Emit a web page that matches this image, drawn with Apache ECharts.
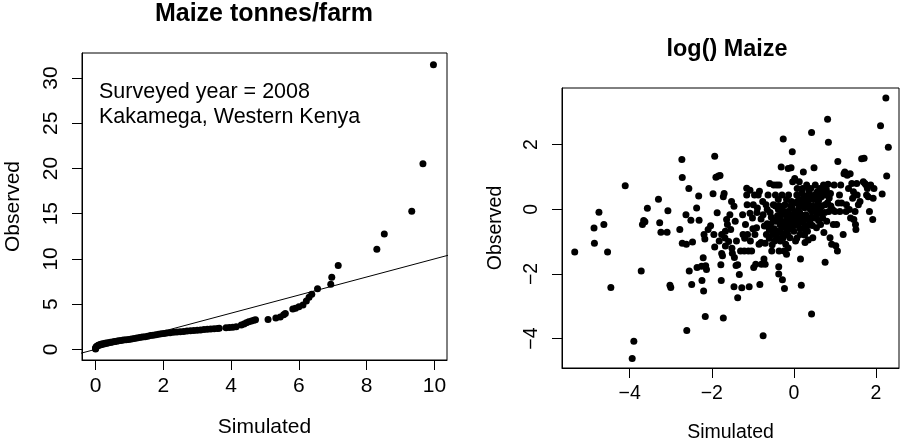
<!DOCTYPE html>
<html><head><meta charset="utf-8">
<script src="https://cdn.jsdelivr.net/npm/echarts@6/dist/echarts.min.js"></script>
<style>html,body{margin:0;padding:0;background:#fff}#c{width:902px;height:448px}</style>
</head><body><div id="c"></div>
<script>
// ---------- Left panel: Q-Q of maize tonnes/farm ----------
const qqSim = [0.00,0.00,0.01,0.02,0.04,0.07,0.10,0.14,0.18,0.23,
  0.28,0.33,0.38,0.44,0.50,0.56,0.62,0.68,0.75,0.82,
  0.90,0.98,1.06,1.14,1.22,1.30,1.38,1.46,1.54,1.62,
  1.70,1.78,1.86,1.94,2.02,2.10,2.20,2.30,2.40,2.50,
  2.60,2.70,2.80,2.90,3.00,3.10,3.20,3.30,3.40,3.50,
  3.60,3.65,3.85,3.95,4.05,4.15,4.30,4.38,4.45,4.52,
  4.60,4.67,4.72,5.09,5.32,5.45,5.55,5.60,5.82,5.90,
  6.00,6.12,6.22,6.30,6.38,6.55,6.94,6.97,7.16,8.30,
  8.52,9.33,9.66,9.97];
const qqObs = [0.05,0.12,0.20,0.28,0.35,0.42,0.48,0.53,0.58,0.62,
  0.66,0.70,0.74,0.78,0.82,0.86,0.90,0.94,0.98,1.02,
  1.06,1.10,1.15,1.20,1.25,1.30,1.35,1.40,1.46,1.52,
  1.57,1.62,1.67,1.72,1.76,1.80,1.84,1.88,1.92,1.95,
  1.98,2.02,2.05,2.08,2.12,2.15,2.18,2.21,2.24,2.27,
  2.30,2.32,2.38,2.41,2.45,2.50,2.70,2.80,2.95,3.05,
  3.12,3.22,3.26,3.30,3.47,3.57,3.83,3.95,4.45,4.55,
  4.70,4.90,5.35,5.76,6.10,6.71,7.19,7.97,9.26,11.07,
  12.76,15.28,20.51,31.47];
const refLine = [[-1, -1], [11, 11]]; // y = x reference
const leftXTicks = [0, 2, 4, 6, 8, 10];
const leftYTicks = [0, 5, 10, 15, 20, 25, 30];

// ---------- Right panel: log() Maize ----------
const logSim = [-5.34,-4.87,-4.86,-4.75,-4.63,-4.54,-4.46,-4.11,-3.90,-3.94,
  -3.72,-3.69,-3.66,-3.63,-3.57,-3.30,-3.27,-3.24,-3.09,-3.07,
  -3.02,-3.00,-2.78,-2.73,-2.72,-2.72,-2.63,-2.62,-2.61,-2.56,
  -2.55,-2.51,-2.49,-2.47,-2.37,-2.36,-2.32,-2.31,-2.25,-2.24,
  -2.21,-2.20,-2.19,-2.17,-2.16,-2.15,-2.13,-2.09,-2.03,-1.97,
  -1.95,-1.93,-1.93,-1.90,-1.87,-1.84,-1.80,-1.82,-1.78,-1.77,
  -1.76,-1.76,-1.74,-1.72,-1.72,-1.70,-1.68,-1.67,-1.67,-1.64,
  -1.62,-1.59,-1.56,-1.54,-1.52,-1.51,-1.50,-1.46,-1.46,-1.45,
  -1.43,-1.41,-1.40,-1.37,-1.37,-1.33,-1.30,-1.27,-1.25,-1.24,
  -1.21,-1.18,-1.15,-1.15,-1.14,-1.13,-1.11,-1.09,-1.07,-1.07,
  -1.06,-1.03,-1.01,-0.99,-0.98,-0.96,-0.95,-0.93,-0.91,-0.89,
  -0.87,-0.85,-0.84,-0.83,-0.80,-0.79,-0.76,-0.75,-0.75,-0.73,
  -0.72,-0.70,-0.68,-0.67,-0.65,-0.63,-0.60,-0.59,-0.57,-0.54,
  -0.52,-0.50,-0.49,-0.47,-0.46,-0.45,-0.42,-0.41,-0.38,-0.37,
  -0.37,-0.36,-0.36,-0.34,-0.33,-0.31,-0.30,-0.29,-0.28,-0.26,
  -0.26,-0.24,-0.23,-0.22,-0.21,-0.20,-0.18,-0.16,-0.15,-0.14,
  -0.13,-0.11,-0.10,-0.08,-0.07,-0.06,-0.04,-0.03,-0.02,0.00,
  0.02,0.02,0.04,0.07,0.08,0.11,0.13,0.15,0.16,0.18,
  0.19,0.21,0.23,0.23,0.24,0.27,0.29,0.31,0.33,0.35,
  0.37,0.39,0.41,0.43,0.43,0.44,0.46,0.47,0.49,0.50,
  0.52,0.54,0.55,0.57,0.59,0.62,0.63,0.65,0.67,0.70,
  0.72,0.73,0.76,0.76,0.78,0.80,0.82,0.83,0.84,0.85,
  0.88,0.89,0.92,0.94,0.96,0.98,1.00,1.02,1.04,1.06,
  1.07,1.08,1.11,1.12,1.14,1.16,1.20,1.22,1.24,1.27,
  1.28,1.30,1.33,1.35,1.37,1.38,1.41,1.43,1.45,1.46,
  1.49,1.50,1.51,1.53,1.54,1.57,1.61,1.65,1.69,1.71,
  1.73,1.76,1.77,1.79,1.81,1.84,1.87,1.92,1.93,1.95,
  2.11,2.15,2.24,2.26,2.30,
  -0.55,-0.48,-0.40,-0.35,-0.30,-0.27,-0.20,-0.18,-0.12,-0.10,
  -0.05,-0.02,0.03,0.05,0.10,0.12,0.18,0.20,0.25,0.28,
  0.32,0.36,0.40,0.45,0.48,0.52,0.58,0.60,0.68,0.74,
  0.82,0.90,-0.15,-0.25,-0.45,-0.60,-0.80,-0.90,-1.00,-1.20,
  -0.65,-0.58,-0.50,-0.43,-0.38,-0.33,-0.28,-0.22,-0.17,-0.08,
  0.00,0.06,0.09,0.14,0.17,0.22,0.26,0.30,0.34,0.38,
  0.42,0.46,0.51,0.55,0.61,0.64,0.70,0.75,0.79,0.86,
  -0.70,-0.53,-0.32,-0.14,0.07,0.26,-0.42,-0.06,0.15,0.35];
const logObs = [-1.32,-0.58,-1.05,-0.09,-0.47,-1.32,-2.42,0.73,-4.08,-4.62,
  -1.91,-0.47,-0.35,-0.39,0.03,0.31,-0.42,-0.71,-0.71,-0.05,
  -2.35,-2.42,-0.63,1.54,0.98,-1.05,-0.17,-1.08,-3.75,0.64,
  -1.91,-0.34,-2.33,-1.01,0.04,-1.80,0.41,-0.34,-1.76,-2.20,
  -1.50,-2.53,-0.78,-0.92,-3.32,-1.75,-1.86,-0.63,-0.51,0.48,
  -0.78,1.64,-1.17,0.99,-0.11,1.03,1.04,-0.98,-1.72,-2.20,
  -0.78,-1.37,-1.44,0.39,-3.36,0.49,-0.89,-1.14,-0.68,-0.32,
  -0.47,-1.00,-0.17,-0.63,0.24,-1.21,-1.36,0.09,-2.40,-1.49,
  -0.37,-1.74,-0.98,-2.74,-1.72,-2.02,-1.29,-2.43,-0.17,-0.78,
  -1.29,-0.47,0.65,0.44,0.14,-0.78,-1.29,-2.40,-0.12,0.59,
  -0.98,-1.29,-0.27,0.14,-1.80,0.44,-0.78,-1.70,-0.57,0.04,
  0.44,-1.08,0.56,-2.33,-1.03,-1.70,0.24,-0.17,-3.91,-1.54,
  -0.52,-1.70,0.14,-0.78,-0.01,0.44,-0.63,0.80,-0.47,-1.29,
  -0.78,0.14,0.75,-0.98,-0.37,0.44,0.75,-0.68,-0.01,-1.78,
  -2.00,-1.29,0.75,-0.47,-0.98,1.31,-0.17,0.44,-2.18,2.17,
  -0.78,-1.29,-2.45,0.14,-0.37,-1.08,-1.39,-0.68,-0.07,1.26,
  0.44,-0.47,-0.88,-0.17,1.28,0.24,1.78,0.85,-0.37,-0.68,
  -0.07,0.95,-0.98,0.44,0.64,-0.27,0.85,-0.78,-1.54,-2.35,
  0.14,0.64,1.15,-0.42,0.34,-1.03,-0.17,0.75,-0.68,0.14,
  0.49,-0.42,0.64,2.37,-3.24,-0.07,-0.88,0.39,1.28,-0.27,
  0.75,0.04,-0.57,0.54,0.19,-0.11,0.64,-0.47,0.39,-0.27,
  0.75,-0.72,0.14,-1.64,0.44,-0.37,2.78,0.77,2.07,-0.07,
  -0.88,0.49,-1.08,-0.01,-0.47,0.75,-0.07,-1.13,-0.47,-1.29,
  1.48,0.19,0.44,-0.07,0.75,0.19,-0.78,1.10,1.15,-0.07,
  0.14,1.05,0.64,-0.01,1.10,-0.27,0.80,0.34,0.54,-0.32,
  -0.07,-0.47,-0.63,0.80,0.44,0.14,0.24,1.56,0.85,1.58,
  0.80,0.75,0.44,0.64,0.39,-0.07,0.75,-0.32,0.34,0.64,
  2.58,0.47,3.44,1.03,1.92,
  -0.25,-0.60,-0.20,0.10,-0.55,-0.90,-0.15,0.30,-0.30,-0.60,
  0.05,-0.50,-0.20,0.20,-0.50,0.05,-0.35,0.50,-0.60,0.25,
  -0.30,0.60,0.00,-0.50,0.30,-0.05,0.45,-0.35,0.10,0.50,
  0.20,0.10,-0.80,-0.40,0.10,-0.90,-0.30,-0.10,-0.60,-0.90,
  -0.45,-0.10,-0.35,-0.80,0.30,-0.35,0.00,-0.55,-0.25,0.10,
  -0.15,-0.40,0.25,-0.10,0.30,-0.20,0.05,0.40,-0.50,0.30,
  -0.25,0.10,0.45,-0.20,0.30,0.05,0.55,-0.10,0.60,0.35,
  -1.05,-1.10,-0.70,-1.20,-0.90,-0.80,-0.85,-0.45,-0.60,-0.95];
const rightXTicks = [-4, -2, 0, 2];
const rightYTicks = [-4, -2, 0, 2];

const titles = ['Maize tonnes/farm', 'log() Maize'];
const annotation = ['Surveyed year = 2008', 'Kakamega, Western Kenya'];

// ---------- build ----------
const FONT = '"Liberation Sans", Arial, Helvetica, sans-serif';
const fmt = v => String(v).replace('-', '\u2212');
const zip = (a, b) => a.map((v, i) => [v, b[i]]);

function mkAxis(grid, min, max, ticks, size, margin, name, nameGap, isY) {
  return {
    type: 'value', gridIndex: grid, min: min, max: max,
    axisLine: { show: true, onZero: false, lineStyle: { color: '#000', width: 1 } },
    axisTick: { show: true, length: 10, customValues: ticks, lineStyle: { color: '#000', width: 1 } },
    axisLabel: { show: true, customValues: ticks, formatter: fmt, color: '#000', fontSize: size,
      fontFamily: FONT, margin: margin, rotate: isY ? 90 : 0 },
    splitLine: { show: false },
    name: name, nameLocation: 'middle', nameGap: nameGap, nameRotate: isY ? 90 : 0,
    nameTextStyle: { color: '#000', fontSize: size, fontFamily: FONT }
  };
}

const chart = echarts.init(document.getElementById('c'), null, { renderer: 'canvas' });
chart.setOption({
  animation: false,
  backgroundColor: '#fff',
  grid: [
    { left: 82, top: 53, width: 365, height: 307, show: true, borderColor: '#000', borderWidth: 1, backgroundColor: 'transparent' },
    { left: 562, top: 88, width: 337, height: 284, show: true, borderColor: '#000', borderWidth: 1, backgroundColor: 'transparent' }
  ],
  xAxis: [
    mkAxis(0, -0.4, 10.37, leftXTicks, 21, 16, 'Simulated', 57, false),
    mkAxis(1, -5.65, 2.56, rightXTicks, 19.5, 16, 'Simulated', 55, false)
  ],
  yAxis: [
    mkAxis(0, -1.18, 32.77, leftYTicks, 21, 20, 'Observed', 58, true),
    mkAxis(1, -4.91, 3.75, rightYTicks, 19.5, 20, 'Observed', 56, true)
  ],
  graphic: [
    { type: 'text', x: 264, y: 14.5, style: { text: titles[0], font: 'bold 25px ' + FONT, fill: '#000', textAlign: 'center', textVerticalAlign: 'middle' } },
    { type: 'text', x: 727, y: 50, style: { text: titles[1], font: 'bold 23.4px ' + FONT, fill: '#000', textAlign: 'center', textVerticalAlign: 'middle' } },
    { type: 'text', x: 99, y: 92.5, style: { text: annotation[0], font: '21.5px ' + FONT, fill: '#000', textAlign: 'left', textVerticalAlign: 'middle' } },
    { type: 'text', x: 99, y: 117.5, style: { text: annotation[1], font: '21.5px ' + FONT, fill: '#000', textAlign: 'left', textVerticalAlign: 'middle' } }
  ],
  series: [
    { type: 'line', xAxisIndex: 0, yAxisIndex: 0, data: refLine, showSymbol: false, clip: true,
      lineStyle: { color: '#000', width: 1 }, silent: true },
    { type: 'scatter', xAxisIndex: 0, yAxisIndex: 0, data: zip(qqSim, qqObs), symbolSize: 7,
      itemStyle: { color: '#000', opacity: 1 }, silent: true },
    { type: 'scatter', xAxisIndex: 1, yAxisIndex: 1, data: zip(logSim, logObs), symbolSize: 7,
      itemStyle: { color: '#000', opacity: 1 }, silent: true }
  ]
});
</script></body></html>
